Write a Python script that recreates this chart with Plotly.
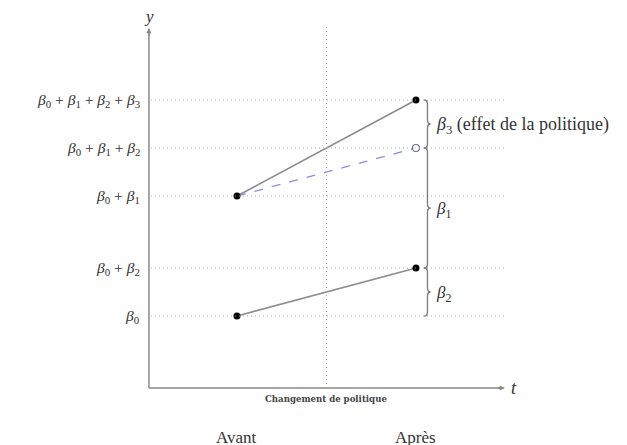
import plotly.graph_objects as go

# ---- data ----
periods = ["Avant", "Après"]
t_pos = [1.0, 2.0]          # time positions
policy_t = 1.5              # policy change
b0, b1, b2, b3 = 3, 5, 2, 2  # coefficients (arbitrary units)

control = [b0, b0 + b2]
treated = [b0 + b1, b0 + b1 + b2 + b3]
counterfactual = [b0 + b1, b0 + b1 + b2]

level_vals = [b0, b0 + b2, b0 + b1, b0 + b1 + b2, b0 + b1 + b2 + b3]
level_labels = [
    "<i>β</i><sub>0</sub>",
    "<i>β</i><sub>0</sub> + <i>β</i><sub>2</sub>",
    "<i>β</i><sub>0</sub> + <i>β</i><sub>1</sub>",
    "<i>β</i><sub>0</sub> + <i>β</i><sub>1</sub> + <i>β</i><sub>2</sub>",
    "<i>β</i><sub>0</sub> + <i>β</i><sub>1</sub> + <i>β</i><sub>2</sub> + <i>β</i><sub>3</sub>",
]
braces = [
    (b0 + b1 + b2, b0 + b1 + b2 + b3, "<i>β</i><sub>3</sub> (effet de la politique)", 18),
    (b0 + b2, b0 + b1 + b2, "<i>β</i><sub>1</sub>", 17),
    (b0, b0 + b2, "<i>β</i><sub>2</sub>", 17),
]

FONT = "Liberation Serif"
AXC = "#8a8a8a"
TXT = "#333333"

x_origin = 0.508
x_end = 2.497
y_top = 15.0
# ranges compensate the 8px page margin of the html body
x_range = [-0.2793, 3.2235]
y_range = [-2.7083, 15.8333]

fig = go.Figure()

shapes = []
# dotted level lines
for v in level_vals:
    shapes.append(dict(type="line", xref="x", yref="y", x0=x_origin + 0.012, x1=2.51,
                       y0=v, y1=v, line=dict(color="#a8a8a8", width=1, dash="1px,3px")))
# vertical policy line
shapes.append(dict(type="line", xref="x", yref="y", x0=policy_t, x1=policy_t,
                   y0=0, y1=15.1, line=dict(color="#b4b4b4", width=1, dash="1px,3px")))
# axes
shapes.append(dict(type="line", xref="x", yref="y", x0=x_origin, x1=x_end - 0.01,
                   y0=0, y1=0, line=dict(color=AXC, width=1.5)))
shapes.append(dict(type="line", xref="x", yref="y", x0=x_origin, x1=x_origin,
                   y0=0, y1=y_top - 0.05, line=dict(color=AXC, width=1.5)))

# braces
def brace_path(x0, ylo, yhi, w=0.036, r=0.18):
    xm = x0 + w / 2
    xt = x0 + w
    mid = (ylo + yhi) / 2
    return (f"M {x0},{yhi} Q {xm},{yhi} {xm},{yhi - r} "
            f"L {xm},{mid + r} Q {xm},{mid} {xt},{mid} "
            f"Q {xm},{mid} {xm},{mid - r} "
            f"L {xm},{ylo + r} Q {xm},{ylo} {x0},{ylo}")

bx = 2.046
for lo, hi, lab, fs in braces:
    shapes.append(dict(type="path", xref="x", yref="y", path=brace_path(bx, lo, hi),
                       line=dict(color="#7a7a7a", width=1.3)))

annotations = []
# axis arrows
annotations.append(dict(x=x_end, y=0, ax=x_end - 0.05, ay=0, xref="x", yref="y",
                        axref="x", ayref="y", showarrow=True, arrowhead=2, arrowsize=0.8,
                        arrowwidth=1.3, arrowcolor=AXC, text=""))
annotations.append(dict(x=x_origin, y=y_top, ax=x_origin, ay=y_top - 0.4, xref="x", yref="y",
                        axref="x", ayref="y", showarrow=True, arrowhead=2, arrowsize=0.8,
                        arrowwidth=1.3, arrowcolor=AXC, text=""))
# axis labels
annotations.append(dict(x=x_origin, y=15.5, text="<i>y</i>", showarrow=False,
                        font=dict(family=FONT, size=17, color=TXT)))
annotations.append(dict(x=2.522, y=0.0, text="<i>t</i>", showarrow=False, xanchor="left",
                        font=dict(family=FONT, size=18, color=TXT)))
# tick labels
for v, lab in zip(level_vals, level_labels):
    annotations.append(dict(x=0.47, y=v, text=lab, showarrow=False, xanchor="right",
                            yanchor="middle", font=dict(family=FONT, size=15.5, color=TXT)))
# brace labels
for lo, hi, lab, fs in braces:
    annotations.append(dict(x=2.1, y=(lo + hi) / 2 - 0.08, text=lab, showarrow=False,
                            xanchor="left", yanchor="middle",
                            font=dict(family=FONT, size=fs, color=TXT)))
# policy change label
annotations.append(dict(x=policy_t, y=-0.46, text="<b>Changement de politique</b>",
                        showarrow=False,
                        font=dict(family="DejaVu Serif", size=8.6, color="#444444")))
# period labels
for tp, p in zip(t_pos, periods):
    annotations.append(dict(x=tp, y=-2.05, text=p, showarrow=False,
                            font=dict(family=FONT, size=17, color=TXT)))

# data lines
fig.add_trace(go.Scatter(x=t_pos, y=counterfactual, mode="lines",
                         line=dict(color="#8a8cf0", width=1.3, dash="dash"), showlegend=False))
fig.add_trace(go.Scatter(x=t_pos, y=control, mode="lines+markers",
                         line=dict(color="#8c8c8c", width=1.6),
                         marker=dict(color="black", size=7), showlegend=False))
fig.add_trace(go.Scatter(x=t_pos, y=treated, mode="lines+markers",
                         line=dict(color="#8c8c8c", width=1.6),
                         marker=dict(color="black", size=7), showlegend=False))
fig.add_trace(go.Scatter(x=[t_pos[1]], y=[counterfactual[1]], mode="markers",
                         marker=dict(color="white", size=7,
                                     line=dict(color="#6a6f88", width=1.2)),
                         showlegend=False))

fig.update_layout(
    width=627, height=445,
    margin=dict(l=0, r=0, t=0, b=0),
    paper_bgcolor="white", plot_bgcolor="white",
    xaxis=dict(range=x_range, visible=False, fixedrange=True),
    yaxis=dict(range=y_range, visible=False, fixedrange=True),
    shapes=shapes, annotations=annotations,
    showlegend=False,
)

fig.write_html("out.html")
